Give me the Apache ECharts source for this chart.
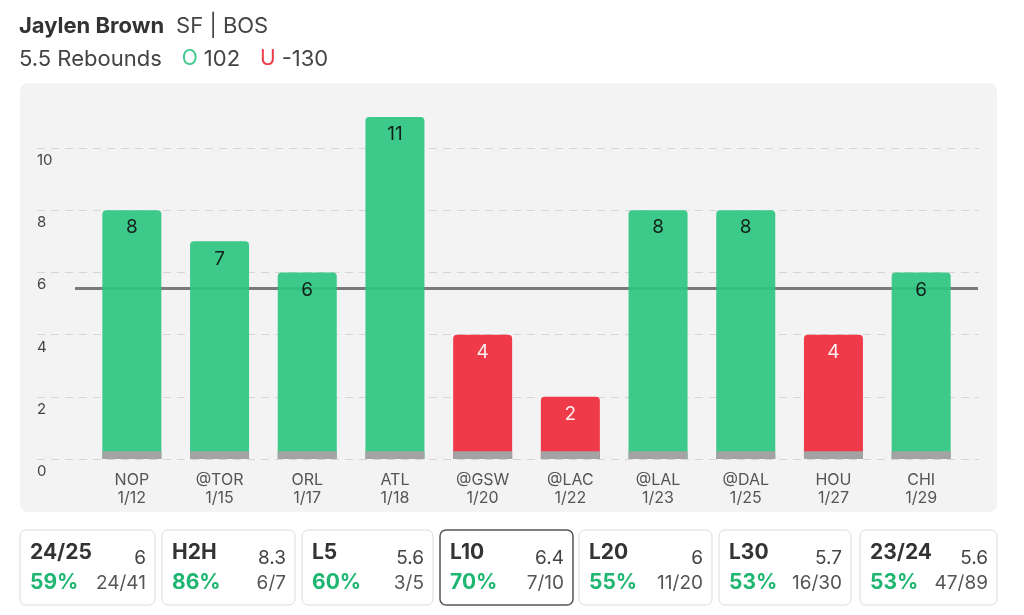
<!DOCTYPE html>
<html>
<head>
<meta charset="utf-8">
<script src="https://cdn.jsdelivr.net/npm/echarts@6/dist/echarts.min.js"></script>
<style>
html,body{margin:0;padding:0;background:#fff;}
#chart{width:1024px;height:615px;}
</style>
</head>
<body>
<div id="chart"></div>
<script>
const categories = ['NOP','@TOR','ORL','ATL','@GSW','@LAC','@LAL','@DAL','HOU','CHI'];
const dates = ['1/12','1/15','1/17','1/18','1/20','1/22','1/23','1/25','1/27','1/29'];
const rebounds = [8,7,6,11,4,2,8,8,4,6];
const propLine = 5.5;
const yMin = 0, yMax = 11, yInterval = 2;
const baseStrip = [0.25,0.25,0.25,0.25,0.25,0.25,0.25,0.25,0.25,0.25];

const cardLabels = ['24/25','H2H','L5','L10','L20','L30','23/24'];
const cardAvg = ['6','8.3','5.6','6.4','6','5.7','5.6'];
const cardPct = ['59%','86%','60%','70%','55%','53%','53%'];
const cardFrac = ['24/41','6/7','3/5','7/10','11/20','16/30','47/89'];
const selectedCard = 3;

const FONT = 'Inter, "Noto Sans", sans-serif';
const GREEN = '#2cc581', RED = '#ef2b3b', PCT_GREEN = '#1fb672';

const graphics = [
  { type: 'rect', z: -10, shape: { x: 20, y: 83, width: 977, height: 429, r: 8 }, style: { fill: '#f3f3f3' } },
  { type: 'text', left: 19, top: 15, style: {
      text: '{b|Jaylen Brown}{n|SF | BOS}',
      rich: {
        b: { fontFamily: FONT, fontSize: 22, fontWeight: 'bold', fill: '#333', padding: [0, 12, 0, 0] },
        n: { fontFamily: FONT, fontSize: 22, fill: '#444' }
      } } },
  { type: 'text', left: 19, top: 48, style: {
      text: '{n|5.5 Rebounds}{o|O}{n|102}{u|U}{n|-130}',
      rich: {
        n: { fontFamily: FONT, fontSize: 22, fill: '#444' },
        o: { fontFamily: FONT, fontSize: 21, fill: '#3cc98a', padding: [0, 6, 0, 20] },
        u: { fontFamily: FONT, fontSize: 21, fill: '#ef3b4a', padding: [0, 6, 0, 20] }
      } } }
];

const cardXs = [20, 162, 302, 440, 579, 719, 860];
const cardWs = [135, 133, 131, 133, 133, 132, 137];
const cardY = 530, cardH = 75;
cardLabels.forEach((lab, i) => {
  const x0 = cardXs[i], w = cardWs[i];
  graphics.push({ type: 'rect', shape: { x: x0, y: cardY, width: w, height: cardH, r: 6 },
    style: { fill: '#fff', stroke: i === selectedCard ? '#555' : '#dcdcdc', lineWidth: i === selectedCard ? 1.5 : 1 } });
  graphics.push({ type: 'text', x: x0 + 10, y: 553, style: { text: lab, fontFamily: FONT, fontSize: 21, fontWeight: 'bold', fill: '#333', verticalAlign: 'middle', align: 'left' } });
  graphics.push({ type: 'text', x: x0 + w - 9, y: 558, style: { text: cardAvg[i], fontFamily: FONT, fontSize: 19, fill: '#444', verticalAlign: 'middle', align: 'right' } });
  graphics.push({ type: 'text', x: x0 + 10, y: 583, style: { text: cardPct[i], fontFamily: FONT, fontSize: 21, fontWeight: 'bold', fill: PCT_GREEN, verticalAlign: 'middle', align: 'left' } });
  graphics.push({ type: 'text', x: x0 + w - 9, y: 583, style: { text: cardFrac[i], fontFamily: FONT, fontSize: 19, fill: '#555', verticalAlign: 'middle', align: 'right' } });
});

const chart = echarts.init(document.getElementById('chart'), null, { renderer: 'canvas' });
chart.setOption({
  animation: false,
  backgroundColor: '#fff',
  textStyle: { fontFamily: FONT },
  graphic: graphics,
  grid: [
    { left: 37, right: 45, top: 117, bottom: 156 },
    { left: 88, right: 59, top: 117, bottom: 156 }
  ],
  xAxis: [
    { gridIndex: 0, type: 'value', min: 0, max: 1, show: false },
    { gridIndex: 1, type: 'category', data: categories,
      axisLine: { show: false }, axisTick: { show: false },
      axisLabel: { margin: 12, fontSize: 16, lineHeight: 18, color: '#555', fontFamily: FONT,
        formatter: (v, i) => v + '\n' + dates[i] } }
  ],
  yAxis: [
    { gridIndex: 0, type: 'value', min: yMin, max: yMax, interval: yInterval,
      axisLine: { show: false }, axisTick: { show: false },
      axisLabel: { inside: true, margin: 0, verticalAlign: 'top', padding: [5, 0, 0, 0], align: 'left',
        fontSize: 15, color: '#444', fontFamily: FONT, showMaxLabel: false },
      splitLine: { show: true, showMaxLine: false, lineStyle: { color: '#d6d6d6', type: [8, 6], width: 1 } } },
    { gridIndex: 1, type: 'value', min: yMin, max: yMax, interval: yInterval, show: false, splitLine: { show: false } }
  ],
  series: [
    { type: 'line', xAxisIndex: 0, yAxisIndex: 0, data: [], z: 1, silent: true,
      markLine: { silent: true, z: 1, symbol: ['none', 'none'], label: { show: false },
        lineStyle: { color: '#7a7a7a', width: 3, type: 'solid' },
        data: [[{ x: 75, yAxis: propLine }, { x: 978, yAxis: propLine }]] } },
    { type: 'bar', xAxisIndex: 1, yAxisIndex: 1, z: 3, barWidth: 59,
      data: rebounds.map(v => ({ value: v,
        itemStyle: { color: v > propLine ? GREEN : RED, opacity: 0.92, borderRadius: [4, 4, 0, 0] },
        label: { color: v > propLine ? '#111' : '#fff' } })),
      label: { show: true, position: 'insideTop', distance: 8, fontSize: 19, fontFamily: FONT } },
    { type: 'bar', xAxisIndex: 1, yAxisIndex: 1, z: 4, barWidth: 59, barGap: '-100%', silent: true,
      data: baseStrip, itemStyle: { color: '#a3a3a3' } }
  ]
});
</script>
</body>
</html>
